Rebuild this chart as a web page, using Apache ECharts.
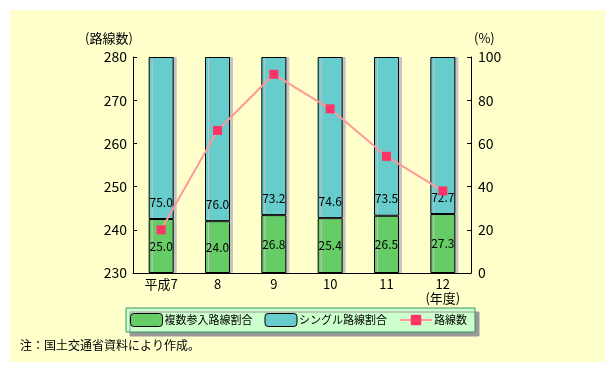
<!DOCTYPE html>
<html><head><meta charset="utf-8">
<script src="https://cdn.jsdelivr.net/npm/echarts@6/dist/echarts.min.js"></script>
<style>html,body{margin:0;padding:0;background:#fff}#c{width:615px;height:373px}</style>
</head><body><div id="c"></div>
<script>
const categories = ['平成7', '8', '9', '10', '11', '12\n(年度)'];
const multiShare = [25.0, 24.0, 26.8, 25.4, 26.5, 27.3];
const singleShare = [75.0, 76.0, 73.2, 74.6, 73.5, 72.7];
const routeCount = [240, 263, 276, 268, 257, 249];
const leftTicks = {min: 230, max: 280, interval: 10};
const rightTicks = {min: 0, max: 100, interval: 20};

const font = '"Noto Sans CJK JP", sans-serif';
const chart = echarts.init(document.getElementById('c'));
const barItem = (c) => ({color: c, borderColor: '#000', borderWidth: 1, shadowColor: '#c4c4c4', shadowOffsetX: 3, shadowOffsetY: 0, shadowBlur: 0});
chart.setOption({
  backgroundColor: '#ffffff',
  animation: false,
  textStyle: {fontFamily: font, color: '#000'},
  graphic: [
    {type: 'rect', z: -10, shape: {x: 10, y: 10, width: 595, height: 352}, style: {fill: '#FFFFCC'}},
    {type: 'text', left: 85, top: 32, style: {text: '(路線数)', font: '13px ' + font, fill: '#000'}},
    {type: 'text', left: 474, top: 32, style: {text: '(%)', font: '13px ' + font, fill: '#000'}},
    {type: 'text', left: 20, top: 339, style: {text: '注：国土交通省資料により作成。', font: '12px ' + font, fill: '#000'}}
  ],
  grid: {left: 133, right: 144, top: 57, bottom: 100},
  legend: {
    left: 126, top: 308, padding: [5, 8, 5, 4], itemGap: 12, itemWidth: 32, itemHeight: 13,
    backgroundColor: '#CCFFCC', borderColor: '#339966', borderWidth: 1,
    shadowColor: '#999', shadowOffsetX: 4, shadowOffsetY: 4, shadowBlur: 0,
    textStyle: {fontSize: 11, color: '#000', fontFamily: font, padding: [0, 0, 0, -3]},
    data: [
      {name: '複数参入路線割合', itemStyle: {borderColor: '#000', borderWidth: 1}},
      {name: 'シングル路線割合', itemStyle: {borderColor: '#000', borderWidth: 1}},
      {name: '路線数'}
    ]
  },
  xAxis: {
    type: 'category', data: categories,
    axisLine: {lineStyle: {color: '#000', width: 1}},
    axisTick: {inside: true, length: 4, lineStyle: {color: '#000'}},
    axisLabel: {color: '#000', fontSize: 13, margin: 4, lineHeight: 14}
  },
  yAxis: [
    {type: 'value', position: 'left', min: leftTicks.min, max: leftTicks.max, interval: leftTicks.interval,
     axisLine: {show: true, lineStyle: {color: '#000'}}, axisTick: {show: true, inside: true, length: 4, lineStyle: {color: '#000'}},
     splitLine: {show: false}, axisLabel: {color: '#000', fontSize: 14, margin: 6}},
    {type: 'value', position: 'right', min: rightTicks.min, max: rightTicks.max, interval: rightTicks.interval,
     axisLine: {show: true, lineStyle: {color: '#000'}}, axisTick: {show: true, inside: true, length: 4, lineStyle: {color: '#000'}},
     splitLine: {show: false}, axisLabel: {color: '#000', fontSize: 14, margin: 7}}
  ],
  series: [
    {name: '複数参入路線割合', type: 'bar', stack: 's', yAxisIndex: 1, barWidth: 25, data: multiShare,
     itemStyle: barItem('#66CC66'),
     label: {show: true, position: 'inside', color: '#000', fontSize: 12, formatter: p => p.value.toFixed(1)}},
    {name: 'シングル路線割合', type: 'bar', stack: 's', yAxisIndex: 1, barWidth: 25, data: singleShare,
     itemStyle: barItem('#66CCCC'),
     label: {show: true, position: 'insideBottom', distance: 11, color: '#000', fontSize: 12, formatter: p => p.value.toFixed(1)}},
    {name: '路線数', type: 'line', yAxisIndex: 0, data: routeCount, z: 5,
     symbol: 'rect', symbolSize: 9,
     lineStyle: {color: '#FF9999', width: 2}, itemStyle: {color: '#FF3366'}}
  ]
});
</script></body></html>
